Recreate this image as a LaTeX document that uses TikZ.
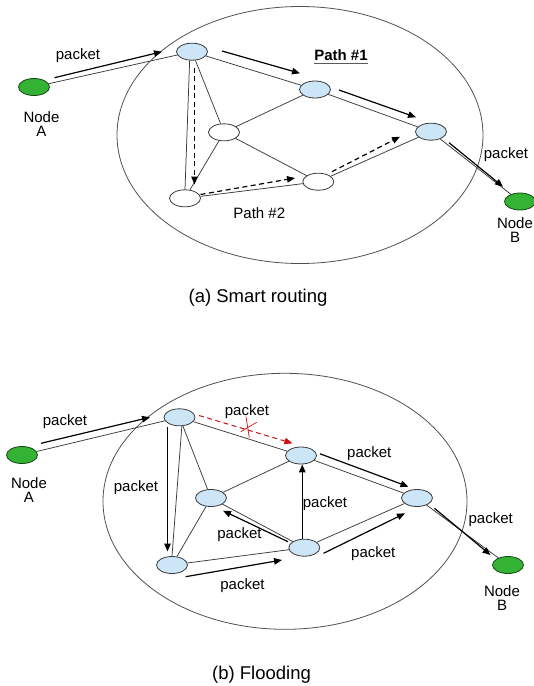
\documentclass[tikz,border=0pt]{standalone}
\usepackage{fontspec}
\setmainfont{Liberation Sans}
\usetikzlibrary{shapes.geometric,arrows.meta}

\definecolor{nodeblue}{HTML}{CCE6F8}
\definecolor{nodegreen}{HTML}{34B234}
\definecolor{edgegray}{HTML}{3A3A3A}
\definecolor{ringgray}{HTML}{505050}
\definecolor{dropred}{HTML}{D01010}

\newcommand{\pkfont}{\fontsize{15}{14.5}\selectfont}
\newcommand{\capfont}{\fontsize{18.5}{20}\selectfont}

\tikzset{
  netnode/.style={ellipse, draw=edgegray, line width=0.8pt,
    minimum width=31pt, minimum height=17pt, inner sep=0pt},
  relay/.style={netnode, fill=nodeblue},
  idle/.style={netnode, fill=white},
  endpt/.style={netnode, fill=nodegreen, draw=nodegreen!40!black},
  ring/.style={ellipse, draw=ringgray, line width=0.8pt, inner sep=0pt},
  link/.style={draw=edgegray, line width=0.75pt},
  flow/.style={draw=black, line width=1.2pt,
    -{Triangle[length=8pt,width=6.5pt]}},
  flowdash/.style={flow, dash pattern=on 5pt off 3.5pt},
  dropflow/.style={flowdash, draw=dropred, line width=1pt,
    -{Triangle[length=8pt,width=6.5pt,fill=dropred]}},
  lbl/.style={font=\pkfont, inner sep=0pt, align=center},
  figcaption/.style={font=\capfont, inner sep=0pt}
}

\begin{document}
\begin{tikzpicture}[x=1pt,y=-1pt]
\useasboundingbox (0,0) rectangle (534,686);

% ---------------- (a) Smart routing ----------------
\node[ring, minimum width=366pt, minimum height=257pt] (neta) at (300,135) {};

\node[endpt] (aA) at (34,87) {};
\node[endpt] (aB) at (520,201.5) {};
\node[relay] (a1) at (192,51.7) {};
\node[relay] (a2) at (315,89.5) {};
\node[relay] (a3) at (431,131.7) {};
\node[idle]  (a4) at (224,132.3) {};
\node[idle]  (a5) at (185,198.3) {};
\node[idle]  (a6) at (318.3,181.7) {};

\draw[link] (aA) -- (a1);
\draw[link] (a1) -- (a2);
\draw[link] (a2) -- (a3);
\draw[link] (a3) -- (aB);
\draw[link] (a1.255) -- (a5.north);
\draw[link] (a1) -- (a4);
\draw[link] (a4) -- (a2);
\draw[link] (a4) -- (a5);
\draw[link] (a4) -- (a6);
\draw[link] (a5) -- (a6);
\draw[link] (a6) -- (a3);

% path #1 flow
\coordinate (f1s) at (54.5,77.7);  \coordinate (f1e) at (162,51.7);
\coordinate (f2s) at (222,51);     \coordinate (f2e) at (300,73.3);
\coordinate (f3s) at (339,90);     \coordinate (f3e) at (416,117.3);
\coordinate (f4s) at (449,142.7);  \coordinate (f4e) at (503,186.7);
\draw[flow] (f1s) -- (f1e);
\draw[flow] (f2s) -- (f2e);
\draw[flow] (f3s) -- (f3e);
\draw[flow] (f4s) -- (f4e);

% path #2 flow
\coordinate (g1s) at (194.5,67.5);  \coordinate (g1e) at (194.5,184.5);
\coordinate (g2s) at (200.5,194.5); \coordinate (g2e) at (295,178);
\coordinate (g3s) at (332,171.7);   \coordinate (g3e) at (400,136.7);
\draw[flowdash] (g1s) -- (g1e);
\draw[flowdash] (g2s) -- (g2e);
\draw[flowdash] (g3s) -- (g3e);

\node[lbl] (ta1) at (78,56) {packet};
\node[lbl] (ta2) at (506,155) {packet};
\node[lbl, font=\pkfont\bfseries] (tp1) at (341,55) {Path \#1};
\draw[line width=1.5pt, black!65] ([yshift=-2.8pt]tp1.south west) -- ([yshift=-2.8pt]tp1.south east);
\node[lbl] (tp2) at (259.3,213.3) {Path \#2};
\node[lbl] (tnA) at (41.5,124) {Node\\A};
\node[lbl] (tnB) at (515,230) {Node\\B};
\node[figcaption] (capa) at (258,298) {(a) Smart routing};

% ---------------- (b) Flooding ----------------
\node[ring, minimum width=364pt, minimum height=256pt] (netb) at (285,501.3) {};

\node[endpt] (bA) at (22,455) {};
\node[endpt] (bB) at (508,565) {};
\node[relay] (b1) at (179.5,417.3) {};
\node[relay] (b2) at (301,455.5) {};
\node[relay] (b3) at (417,498) {};
\node[relay] (b4) at (211,498) {};
\node[relay] (b5) at (172,565) {};
\node[relay] (b6) at (304.3,547.7) {};

\draw[link] (bA) -- (b1);
\draw[link] (b1) -- (b2);
\draw[link] (b1.285) -- (b5.north);
\draw[link] (b1) -- (b4);
\draw[link] (b4) -- (b2);
\draw[link] (b4) -- (b5);
\draw[link] (b4) -- (b6);
\draw[link] (b5) -- (b6);
\draw[link] (b2) -- (b3);
\draw[link] (b6) -- (b3);
\draw[link] (b3) -- (bB);

% flooded copies
\coordinate (h1s) at (41,443.3);    \coordinate (h1e) at (150,417.3);
\coordinate (h2s) at (199,415.5);   \coordinate (h2e) at (292.5,443.3);
\coordinate (h3s) at (167.5,427);   \coordinate (h3e) at (167.5,551.5);
\coordinate (h4s) at (288,541.7);   \coordinate (h4e) at (223,510.7);
\coordinate (h5s) at (185.6,576.7); \coordinate (h5e) at (282,560);
\coordinate (h6s) at (323.5,553.3); \coordinate (h6e) at (405,513.3);
\coordinate (h7s) at (320,453.8);   \coordinate (h7e) at (408.5,486.7);
\coordinate (h8s) at (434.5,508.3); \coordinate (h8e) at (490.5,555);
\draw[flow] (h1s) -- (h1e);
\draw[dropflow] (h2s) -- (h2e);
\draw[flow] (h3s) -- (h3e);
\draw[flow] (h4s) -- (h4e);
\draw[flow] (h5s) -- (h5e);
\draw[flow] (b6.103) -- (b2.south -| b6.103);
\draw[flow] (h6s) -- (h6e);
\draw[flow] (h7s) -- (h7e);
\draw[flow] (h8s) -- (h8e);

% dropped copy mark
\coordinate (x1) at (246,416.7);  \coordinate (x2) at (249.3,437.7);
\coordinate (x3) at (240.7,431.7); \coordinate (x4) at (256.7,422.3);
\draw[dropred, line width=0.7pt] (x1) -- (x2);
\draw[dropred, line width=0.7pt] (x3) -- (x4);

\node[lbl] (tb1) at (65,421.7) {packet};
\node[lbl] (tb2) at (247,411.7) {packet};
\node[lbl] (tb3) at (136,487.7) {packet};
\node[lbl] (tb4) at (239.5,535) {packet};
\node[lbl] (tb5) at (242.5,586) {packet};
\node[lbl] (tb6) at (325,503.3) {packet};
\node[lbl] (tb7) at (373.3,553.3) {packet};
\node[lbl] (tb8) at (369.3,453.3) {packet};
\node[lbl] (tb9) at (490.7,520) {packet};
\node[lbl] (tnA2) at (29,490) {Node\\A};
\node[lbl] (tnB2) at (502,598.3) {Node\\B};
\node[figcaption] (capb) at (261.5,675) {(b) Flooding};
\end{tikzpicture}
\end{document}
